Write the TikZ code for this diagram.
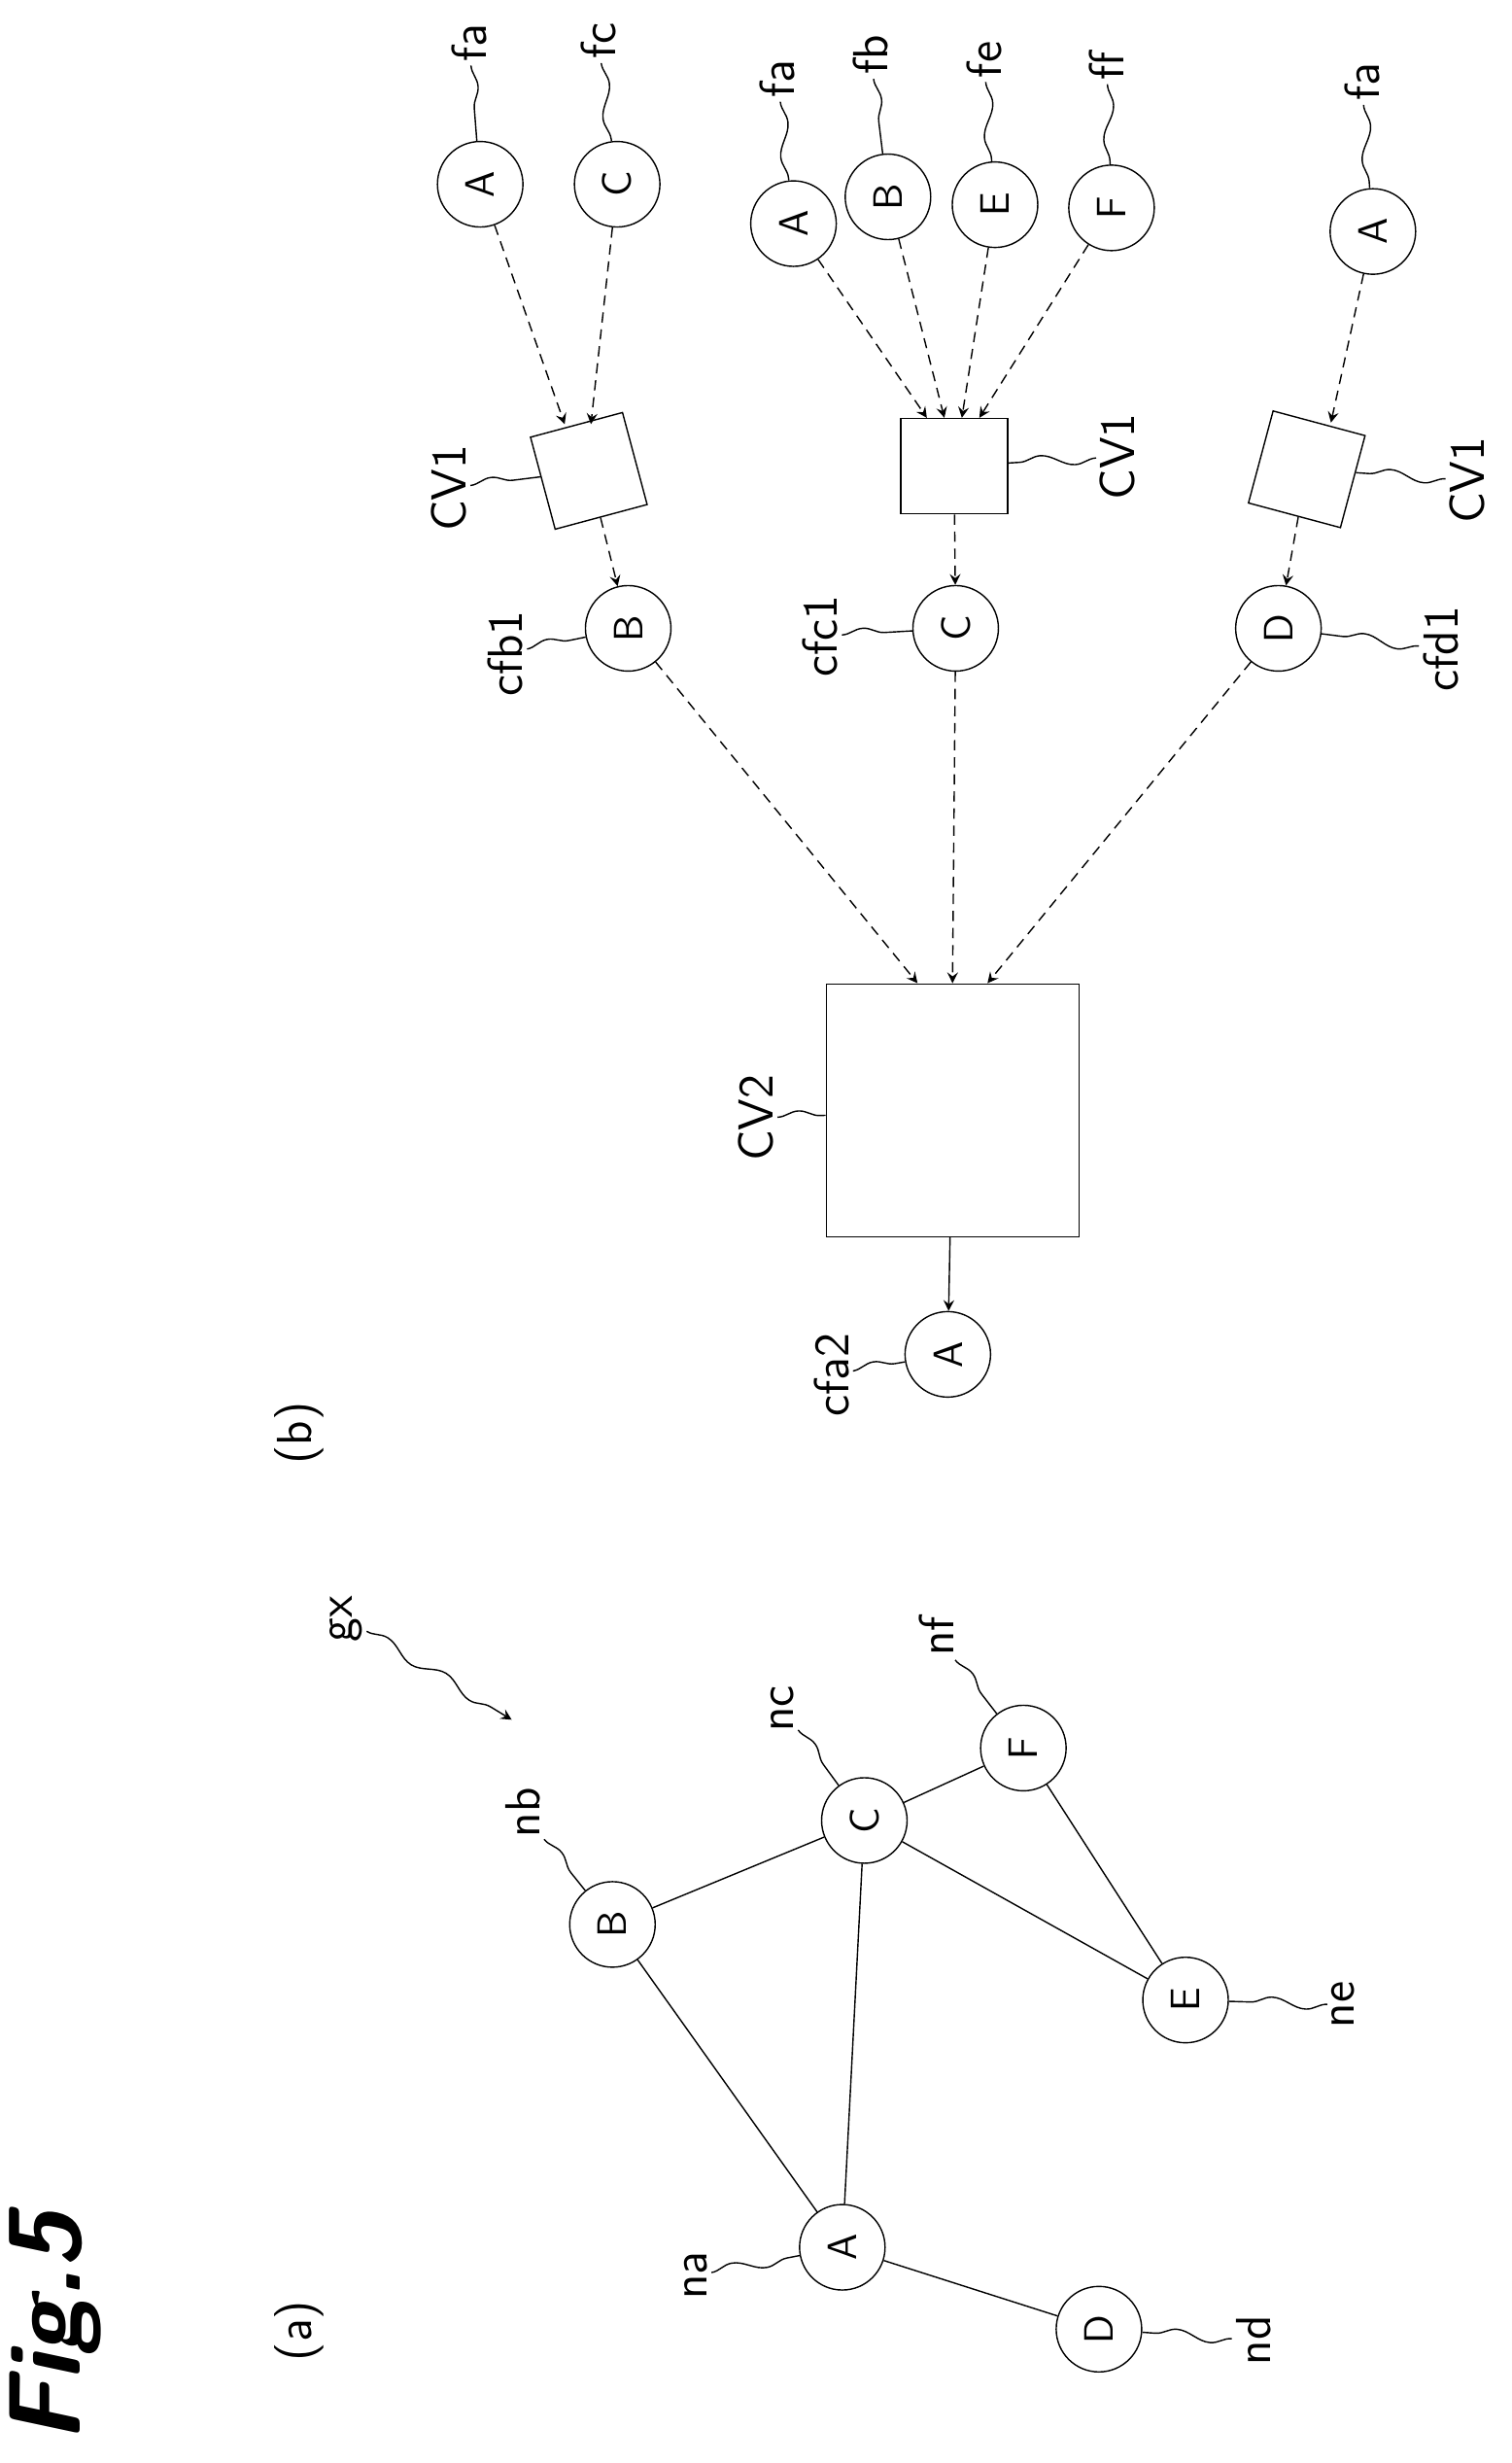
\documentclass[tikz,border=0pt]{standalone}
\usepackage{tikz}
\usetikzlibrary{arrows}
\usetikzlibrary{decorations.pathmorphing}

\tikzset{
    vtx/.style = {draw, circle, minimum size = 0.88cm, inner sep = 0pt, font = \sffamily\large, rotate = 90},
    box/.style = {draw, minimum width = #1, minimum height = #1, inner sep = 0pt},
    lbl/.style = {font = \sffamily\Large, rotate = 90, inner sep = 1pt},
    lead/.style = {decorate, decoration = {snake, amplitude = 1.6pt, segment length = 20pt}},
    dep/.style = {densely dashed, -stealth},
}

\begin{document}
\begin{tikzpicture}[x = 0.0162cm, y = -0.0162cm]
        \useasboundingbox (0, 0) rectangle (960, 1564);

        \node[font = \sffamily\bfseries\itshape\Huge, scale = 1.2, rotate = 90] (fig) at (35, 1478) {Fig.5};
        \node[lbl] (pa) at (190, 1480) {(a)};
        \node[lbl] (pb) at (190, 910) {(b)};

        % graph gx
        \node[vtx] (A) at (535, 1427) {A};
        \node[vtx] (B) at (389, 1222) {B};
        \node[vtx] (C) at (549, 1156) {C};
        \node[vtx] (D) at (698, 1479) {D};
        \node[vtx] (E) at (753, 1270) {E};
        \node[vtx] (F) at (650, 1110) {F};
        \draw (A) -- (B) (A) -- (C) (A) -- (D) (B) -- (C) (C) -- (E) (C) -- (F) (F) -- (E);

        \node[lbl] (na) at (442, 1445) {na};
        \node[lbl] (nb) at (332, 1151) {nb};
        \node[lbl] (nc) at (497, 1085) {nc};
        \node[lbl] (nd) at (796, 1486) {nd};
        \node[lbl] (ne) at (853, 1273) {ne};
        \node[lbl] (nf) at (595, 1039) {nf};
        \node[lbl] (gx) at (220, 1028) {gx};
        \draw[lead] (na) -- (A);
        \draw[lead] (nb) -- (B);
        \draw[lead] (nc) -- (C);
        \draw[lead] (nd) -- (D);
        \draw[lead] (ne) -- (E);
        \draw[lead] (nf) -- (F);
        \coordinate (gxend) at (325, 1092);
        \draw[lead, -stealth] (gx) -- (gxend);

        % conversion (b)
        \node[box = 2.6cm] (cv2) at (605, 705) {};
        \node[vtx] (a2) at (602, 860) {A};
        \draw[-stealth] (cv2) -- (a2);

        \node[vtx] (b1) at (399, 399) {B};
        \node[vtx] (c1) at (607, 399) {C};
        \node[vtx] (d1) at (812, 399) {D};
        \draw[dep] (b1) -- ([xshift = -0.36cm]cv2.north);
        \draw[dep] (c1) -- (cv2.north);
        \draw[dep] (d1) -- ([xshift = 0.36cm]cv2.north);

        \node[box = 0.98cm, rotate = 15] (cvb) at (374, 299) {};
        \node[box = 0.98cm, minimum width = 1.1cm] (cvc) at (606, 296) {};
        \node[box = 0.98cm, rotate = -15] (cvd) at (830, 298) {};
        \draw[dep] (cvb) -- (b1);
        \draw[dep] (cvc) -- (c1);
        \draw[dep] (cvd) -- (d1);

        \node[vtx] (ia) at (305, 117) {A};
        \node[vtx] (ic) at (392, 117) {C};
        \draw[dep] (ia) -- ([xshift = -0.12cm]cvb.north);
        \draw[dep] (ic) -- ([xshift = 0.15cm]cvb.north);

        \node[vtx] (ja) at (504, 142) {A};
        \node[vtx] (jb) at (564, 125) {B};
        \node[vtx] (je) at (632, 130) {E};
        \node[vtx] (jf) at (706, 132) {F};
        \draw[dep] (ja) -- ([xshift = -0.28cm]cvc.north);
        \draw[dep] (jb) -- ([xshift = -0.1cm]cvc.north);
        \draw[dep] (je) -- ([xshift = 0.08cm]cvc.north);
        \draw[dep] (jf) -- ([xshift = 0.26cm]cvc.north);

        \node[vtx] (ka) at (872, 147) {A};
        \draw[dep] (ka) -- ([xshift = 0.12cm]cvd.north);

        % reference labels
        \node[lbl] (lcfa2) at (528, 873) {cfa2};
        \node[lbl] (lcfb1) at (321, 415) {cfb1};
        \node[lbl] (lcfc1) at (521, 404) {cfc1};
        \node[lbl] (lcfd1) at (915, 412) {cfd1};
        \node[lbl] (lcv2) at (480, 710) {CV2};
        \node[lbl] (lcvb) at (285, 310) {CV1};
        \node[lbl] (lcvc) at (710, 290) {CV1};
        \node[lbl] (lcvd) at (932, 305) {CV1};
        \draw[lead] (lcfa2) -- (a2);
        \draw[lead] (lcfb1) -- (b1);
        \draw[lead] (lcfc1) -- (c1);
        \draw[lead] (lcfd1) -- (d1);
        \draw[lead] (lcv2) -- (cv2);
        \draw[lead] (lcvb) -- (cvb);
        \draw[lead] (lcvc) -- (cvc);
        \draw[lead] (lcvd) -- (cvd);

        \node[lbl] (lfa1) at (298, 27) {fa};
        \node[lbl] (lfc) at (380, 26) {fc};
        \node[lbl] (lfa2) at (494, 50) {fa};
        \node[lbl] (lfb) at (553, 35) {fb};
        \node[lbl] (lfe) at (625, 38) {fe};
        \node[lbl] (lff) at (703, 42) {ff};
        \node[lbl] (lfa3) at (865, 52) {fa};
        \draw[lead] (lfa1) -- (ia);
        \draw[lead] (lfc) -- (ic);
        \draw[lead] (lfa2) -- (ja);
        \draw[lead] (lfb) -- (jb);
        \draw[lead] (lfe) -- (je);
        \draw[lead] (lff) -- (jf);
        \draw[lead] (lfa3) -- (ka);
    \end{tikzpicture}
\end{document}
